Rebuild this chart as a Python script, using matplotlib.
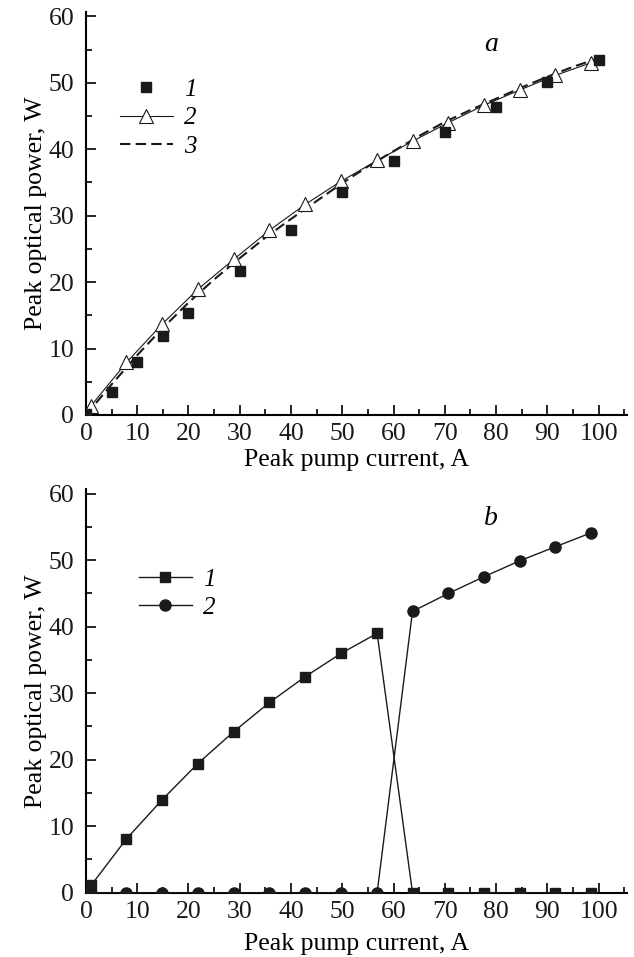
import numpy as np
import matplotlib
matplotlib.use('Agg')
import matplotlib.pyplot as plt
from matplotlib.ticker import MultipleLocator

plt.rcParams['font.family'] = ['Liberation Serif', 'DejaVu Serif']

# ---- panel a data
x_meas = [0, 5, 10, 15, 20, 30, 40, 50, 60, 70, 80, 90, 100]
p_meas = [0.2, 3.4, 7.9, 11.9, 15.4, 21.7, 27.9, 33.6, 38.2, 42.6, 46.4, 50.1, 53.4]

x_calc = [1, 7.9, 14.9, 21.8, 28.8, 35.8, 42.8, 49.8, 56.8, 63.7, 70.7, 77.6, 84.6, 91.5, 98.5]
p_calc = [1.4, 7.9, 13.7, 18.9, 23.4, 27.8, 31.7, 35.2, 38.3, 41.2, 44.0, 46.6, 48.9, 51.1, 53.0]

x_fit = [0, 5, 10, 15, 20, 25, 30, 35, 40, 45, 50, 55, 60, 65, 70, 75, 80, 85, 90, 95, 100]
p_fit = [0, 4.6, 9.0, 13.1, 16.9, 20.4, 23.6, 26.7, 29.5, 32.2, 34.9, 37.4, 39.7, 42.0,
         44.1, 45.9, 47.6, 49.3, 50.9, 52.4, 53.7]

# ---- panel b data
x_b = [1, 7.9, 14.9, 21.8, 28.8, 35.8, 42.8, 49.8, 56.8, 63.7, 70.7, 77.6, 84.6, 91.5, 98.5]
p_b1 = [1.1, 8.1, 14.0, 19.4, 24.2, 28.6, 32.5, 36.0, 39.0, 0, 0, 0, 0, 0, 0]
p_b2 = [0, 0, 0, 0, 0, 0, 0, 0, 0, 42.3, 45.0, 47.5, 49.9, 52.0, 54.1]

fig = plt.figure(figsize=(6.34, 9.57), dpi=100)
ax1 = fig.add_axes([0.1356, 0.5664, 0.853, 0.4214])
ax2 = fig.add_axes([0.1356, 0.0672, 0.853, 0.4218])


def style_axes(ax, xpad):
    ax.set_xlim(0, 105.5)
    ax.set_ylim(0, 60.7)
    for s in ['top', 'right']:
        ax.spines[s].set_visible(False)
    for s in ['left', 'bottom']:
        ax.spines[s].set_linewidth(1.5)
    ax.xaxis.set_major_locator(MultipleLocator(10))
    ax.xaxis.set_minor_locator(MultipleLocator(5))
    ax.yaxis.set_major_locator(MultipleLocator(10))
    ax.yaxis.set_minor_locator(MultipleLocator(5))
    ax.tick_params(which='both', direction='in', width=1.2, labelsize=18.5)
    ax.tick_params(axis='x', which='both', pad=6)
    ax.tick_params(axis='y', which='both', pad=8.5)
    ax.tick_params(which='major', length=7)
    ax.tick_params(which='minor', length=4)
    ax.set_xlabel('Peak pump current, A', fontsize=18.5, labelpad=xpad)
    ax.set_ylabel('Peak optical power, W', fontsize=18.5, labelpad=1)


style_axes(ax1, 3)
ax1.plot(x_fit, p_fit, color='#1a1a1a', ls=(0, (5, 2.5)), lw=1.5, label='3', zorder=2)
ax1.plot(x_calc, p_calc, color='#1a1a1a', lw=0.8, marker='^', ms=10, mfc='white',
         mec='#1a1a1a', mew=0.8, label='2', zorder=3)
ax1.plot(x_meas, p_meas, ls='none', marker='s', ms=7.5, color='#1a1a1a', label='1', zorder=4)
h, l = ax1.get_legend_handles_labels()
ax1.legend(h[::-1], l[::-1], loc='upper left', bbox_to_anchor=(0.04, 0.865), frameon=False,
           prop={'style': 'italic', 'size': 18}, handlelength=2.1, handletextpad=0.45,
           labelspacing=0.23, borderpad=0)
ax1.text(79, 55.8, 'a', fontsize=20, style='italic', ha='center', va='center')

style_axes(ax2, 7)
ax2.plot(x_b, p_b1, color='#1a1a1a', lw=1.0, marker='s', ms=6.5, label='1', zorder=4)
ax2.plot(x_b, p_b2, color='#1a1a1a', lw=1.0, marker='o', ms=8, label='2', zorder=3)
ax2.legend(loc='upper left', bbox_to_anchor=(0.075, 0.835), frameon=False,
           prop={'style': 'italic', 'size': 18}, handlelength=2.1, handletextpad=0.45,
           labelspacing=0.23, borderpad=0)
ax2.text(79, 56.3, 'b', fontsize=20, style='italic', ha='center', va='center')

for ax in (ax1, ax2):
    for lab in ax.get_xticklabels() + ax.get_yticklabels():
        lab.set_color('#1a1a1a')

fig.savefig('out.png', dpi=100)
